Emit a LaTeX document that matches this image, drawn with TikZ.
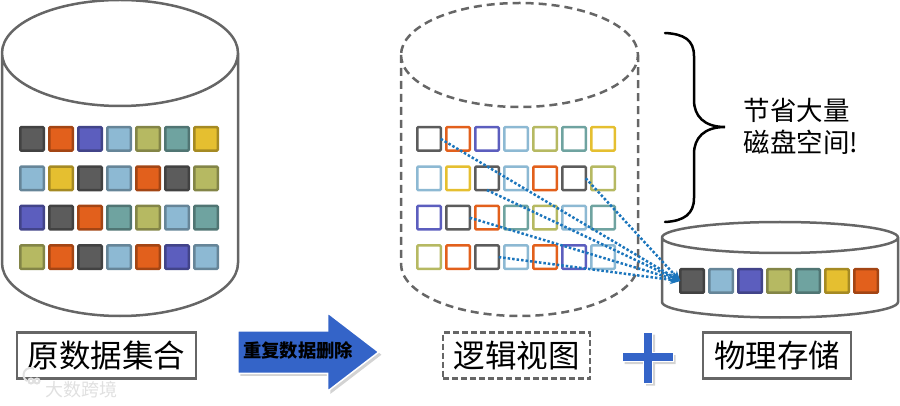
\documentclass[tikz,border=0pt]{standalone}
\usepackage{fontspec}
\setmainfont{Noto Sans CJK SC}
\usepackage{xcolor}
\usetikzlibrary{positioning,arrows.meta,shapes.arrows,shadows}
\definecolor{cd}{HTML}{5C5C5C}
\definecolor{co}{HTML}{E2601C}
\definecolor{cp}{HTML}{5C5EBE}
\definecolor{cl}{HTML}{8DB9D3}
\definecolor{cv}{HTML}{B6B962}
\definecolor{ct}{HTML}{6FA3A0}
\definecolor{cy}{HTML}{E5BF30}
\definecolor{lineg}{HTML}{666666}
\definecolor{dotb}{HTML}{1B75BC}
\definecolor{arrb}{HTML}{3464C8}
\begin{document}
\begin{tikzpicture}[x=1pt,y=-1pt, >={Stealth[length=10pt,width=9pt]},
  db/.style={draw=lineg,line width=2.5pt},
  cell/.style={rounded corners=1pt,line width=2.5pt,minimum size=23.5pt,inner sep=0pt,outer sep=0pt},
  lab/.style={draw=lineg,line width=2.5pt,font=\fontsize{31.5pt}{34pt}\selectfont,inner sep=0pt,minimum height=46pt},
  dup/.style={->,dash pattern=on 2.5pt off 2pt,dotb,line width=2.5pt}]
  \useasboundingbox (0,0) rectangle (900,406);
  \draw[db] (2,53) -- (2,263) arc (180:0:118 and 53) -- (238,53) (2,53) arc (180:-180:118 and 53);
  \draw[db,dash pattern=on 8pt off 5pt] (401,55) -- (401,264) arc (180:0:118.5 and 52) -- (638,55) (401,55) arc (180:-180:118.5 and 52);
  \draw[db] (662,237.5) -- (662,302) arc (180:0:118 and 15.5) -- (898,237.5) (662,237.5) arc (180:-180:118 and 15.5);
  \foreach \cols [count=\ri] in {{d,o,p,l,v,t,y},{l,y,d,l,o,d,v},{p,d,o,t,v,l,t},{v,o,d,l,o,p,l}}
    \foreach \col [count=\ci] in \cols {
      \node[cell,fill=c\col,draw=c\col!72!black] (a\ri\ci) at ({3+\ci*29},{99.5+\ri*39.4}) {};
      \node[cell,draw=c\col] (b\ri\ci) at ({400+\ci*29},{99.5+\ri*39.4}) {};
    }
  \foreach \col [count=\ci] in {d,l,p,v,t,y,o}
    \node[cell,fill=c\col,draw=c\col!72!black] (p\ci) at ({663+\ci*29},281) {};
  \draw[dup] (b11.east)--(p1.west);
  \draw[dup] (b26.east)--(p1.west);
  \draw[dup] (b23.south)--(p1.west);
  \draw[dup] (b32.east)--(p1.west);
  \draw[dup] (b43.east)--(p1.west);
  \draw[line width=2.5pt,line cap=round] (665,33) .. controls (684,34) and (694,40) .. (694,56) -- (694,100)
    .. controls (694,116) and (704,127) .. (725,127) .. controls (704,127) and (694,138) .. (694,154) -- (694,198)
    .. controls (694,214) and (684,221) .. (665,222);
  \node[align=left,inner sep=0pt,font=\fontsize{26.5pt}{32pt}\selectfont] (note) at (801,126) {节省大量\\磁盘空间!};
  \node[lab,minimum width=179pt] (srclab) at (106.5,355.5) {原数据集合};
  \node[single arrow,fill=arrb,draw=white,line width=1.5pt,minimum height=141pt,minimum width=77pt,
    single arrow head extend=18pt,single arrow tip angle=75,inner sep=0pt,anchor=tail,drop shadow={opacity=.35}] (dedup) at (237,352) {\rule{0pt}{41pt}};
  \node[font=\bfseries\fontsize{18.3pt}{20pt}\selectfont,inner sep=0pt] (deduptxt) at (298,351) {重复数据删除};
  \node[lab,dash pattern=on 6pt off 3pt,minimum width=147pt] (lgclab) at (516.5,355.5) {逻辑视图};
  \node[lab,minimum width=148pt] (phylab) at (777,355.5) {物理存储};
  \draw[fill=arrb,draw=white,line width=1pt,drop shadow={opacity=.35}] (643.5,332) -- (652.5,332) -- (652.5,352.5) -- (673,352.5) -- (673,361.5)
    -- (652.5,361.5) -- (652.5,383) -- (643.5,383) -- (643.5,361.5) -- (622,361.5) -- (622,352.5) -- (643.5,352.5) -- cycle;
  \node[text=black!12,inner sep=0pt,font=\fontsize{18pt}{20pt}\selectfont] (mark) at (81,390) {大数跨境};
  \draw[black!12,line width=2pt] (27,381) arc (120:300:7) (31,381) circle (2.5) (37,381) circle (2.5);
\end{tikzpicture}
\end{document}
